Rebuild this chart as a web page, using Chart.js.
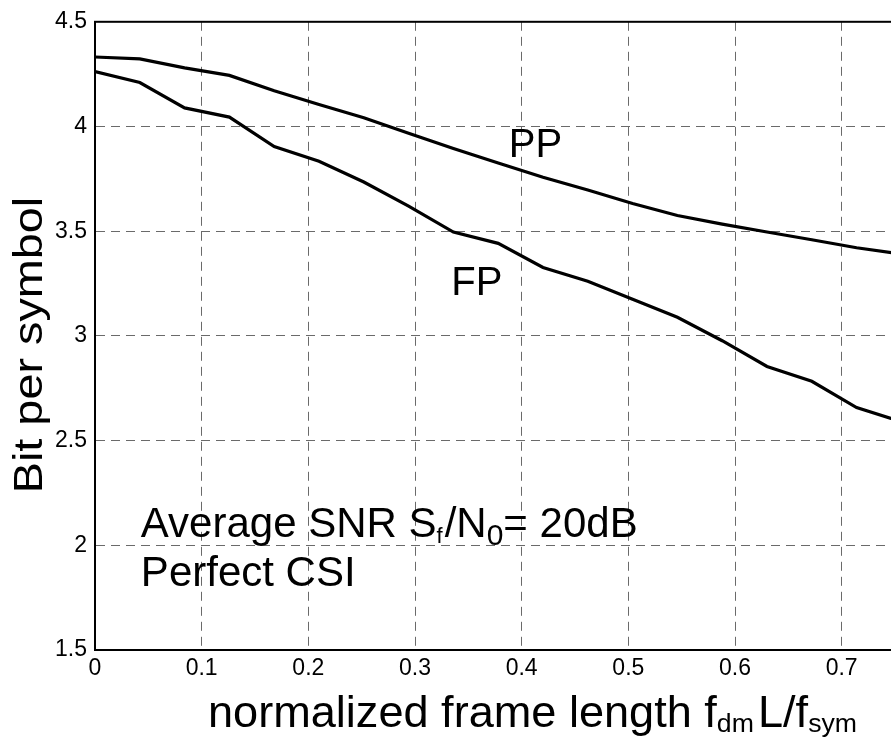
<!DOCTYPE html>
<html>
<head>
<meta charset="utf-8">
<script src="https://cdn.jsdelivr.net/npm/chart.js@4/dist/chart.umd.min.js"></script>
<style>
  html, body { margin: 0; padding: 0; background: #fff; overflow: hidden; width: 891px; height: 744px; }
  #wrap { position: absolute; left: 0; top: 0; width: 900px; height: 744px; }
</style>
</head>
<body>
<div id="wrap"><canvas id="c" width="900" height="744"></canvas></div>
<script>
// normalized frame length f_dm L / f_sym
const frameLength = [0, 0.042, 0.084, 0.126, 0.168, 0.21, 0.252, 0.294, 0.336, 0.378, 0.42, 0.462, 0.504, 0.546, 0.588, 0.63, 0.672, 0.714, 0.75];
// bit per symbol, PP scheme
const ppBits = [4.332, 4.323, 4.28, 4.244, 4.171, 4.105, 4.042, 3.968, 3.895, 3.826, 3.758, 3.697, 3.632, 3.575, 3.534, 3.496, 3.459, 3.421, 3.395];
// bit per symbol, FP scheme
const fpBits = [4.262, 4.21, 4.089, 4.045, 3.904, 3.834, 3.735, 3.62, 3.496, 3.442, 3.327, 3.261, 3.175, 3.089, 2.977, 2.854, 2.783, 2.658, 2.60];

const xTickValues = [0, 0.1, 0.2, 0.3, 0.4, 0.5, 0.6, 0.7];
const yTickValues = [1.5, 2, 2.5, 3, 3.5, 4, 4.5];

const FONT = '"Liberation Sans", Arial, Helvetica, sans-serif';

function pts(xs, ys) { return xs.map((x, i) => ({ x: x, y: ys[i] })); }

// draw a run of text pieces (normal / subscript) left to right, optional horizontal stretch
function drawRuns(ctx, runs, x, y, stretch) {
  ctx.save();
  ctx.translate(x, y);
  ctx.scale(stretch || 1, 1);
  let cx = 0;
  for (const r of runs) {
    ctx.font = r.size + 'px ' + FONT;
    ctx.fillText(r.t, cx + (r.dx || 0), r.dy || 0);
    cx += ctx.measureText(r.t).width + (r.dx || 0) + (r.gap || 0);
  }
  ctx.restore();
}

const decorations = {
  id: 'decorations',
  afterDraw(chart) {
    const { ctx, chartArea: a, scales: { x, y } } = chart;
    ctx.save();
    // axes box
    ctx.strokeStyle = '#000';
    ctx.lineWidth = 2;
    ctx.strokeRect(a.left, a.top, a.right - a.left, a.bottom - a.top);

    ctx.fillStyle = '#000';
    ctx.textBaseline = 'alphabetic';
    ctx.textAlign = 'left';

    // curve labels
    ctx.font = '40px ' + FONT;
    ctx.fillText('PP', x.getPixelForValue(0.388), y.getPixelForValue(3.856));
    ctx.fillText('FP', x.getPixelForValue(0.334), y.getPixelForValue(3.197));

    // operating point note
    drawRuns(ctx, [
      { t: 'Average SNR S', size: 42 },
      { t: 'f', size: 22, dy: 6, gap: 2 },
      { t: '/N', size: 42 },
      { t: '0', size: 30, dy: 8 },
      { t: '= 20dB', size: 42 }
    ], x.getPixelForValue(0.043), y.getPixelForValue(2.04), 1);
    drawRuns(ctx, [{ t: 'Perfect CSI', size: 42 }], x.getPixelForValue(0.043), y.getPixelForValue(1.808), 1);

    // x axis title
    drawRuns(ctx, [
      { t: 'normalized frame length f', size: 44 },
      { t: 'dm', size: 26, dy: 5, gap: 4 },
      { t: 'L/f', size: 44 },
      { t: 'sym', size: 26, dy: 5 }
    ], 208, 727, 1.025);

    // y axis title
    ctx.save();
    ctx.translate(42, 345);
    ctx.rotate(-Math.PI / 2);
    ctx.font = '40px ' + FONT;
    ctx.textAlign = 'center';
    ctx.scale(1.17, 1);
    ctx.fillText('Bit per symbol', 0, 0);
    ctx.restore();

    ctx.restore();
  }
};

new Chart(document.getElementById('c'), {
  type: 'line',
  data: {
    datasets: [
      { label: 'PP', data: pts(frameLength, ppBits), borderColor: '#000', borderWidth: 3.2, pointRadius: 0, tension: 0, fill: false },
      { label: 'FP', data: pts(frameLength, fpBits), borderColor: '#000', borderWidth: 3.2, pointRadius: 0, tension: 0, fill: false }
    ]
  },
  options: {
    responsive: false,
    animation: false,
    devicePixelRatio: 1,
    layout: { padding: { left: 0, right: 5, top: 13, bottom: 0 } },
    plugins: { legend: { display: false }, tooltip: { enabled: false }, title: { display: false } },
    scales: {
      x: {
        type: 'linear', min: 0, max: 0.75,
        afterBuildTicks(s) { s.ticks = xTickValues.map(v => ({ value: v })); },
        afterFit(s) { s.height = 94; },
        ticks: { color: '#000', font: { family: FONT, size: 23 }, padding: 5, maxRotation: 0, autoSkip: false,
                 callback: v => String(+v.toFixed(2)) },
        grid: { color: '#6a6a6a', lineWidth: 1, drawTicks: false, tickLength: 0 },
        border: { display: true, color: '#000', width: 2, dash: [9, 6] }
      },
      y: {
        type: 'linear', min: 1.5, max: 4.5,
        afterBuildTicks(s) { s.ticks = yTickValues.map(v => ({ value: v })); },
        afterFit(s) { s.width = 95; },
        ticks: { color: '#000', font: { family: FONT, size: 23 }, padding: 8, autoSkip: false,
                 callback: v => String(+v.toFixed(1)) },
        grid: { color: '#6a6a6a', lineWidth: 1, drawTicks: false, tickLength: 0 },
        border: { display: true, color: '#000', width: 2, dash: [9, 6] }
      }
    }
  },
  plugins: [decorations]
});
</script>
</body>
</html>
